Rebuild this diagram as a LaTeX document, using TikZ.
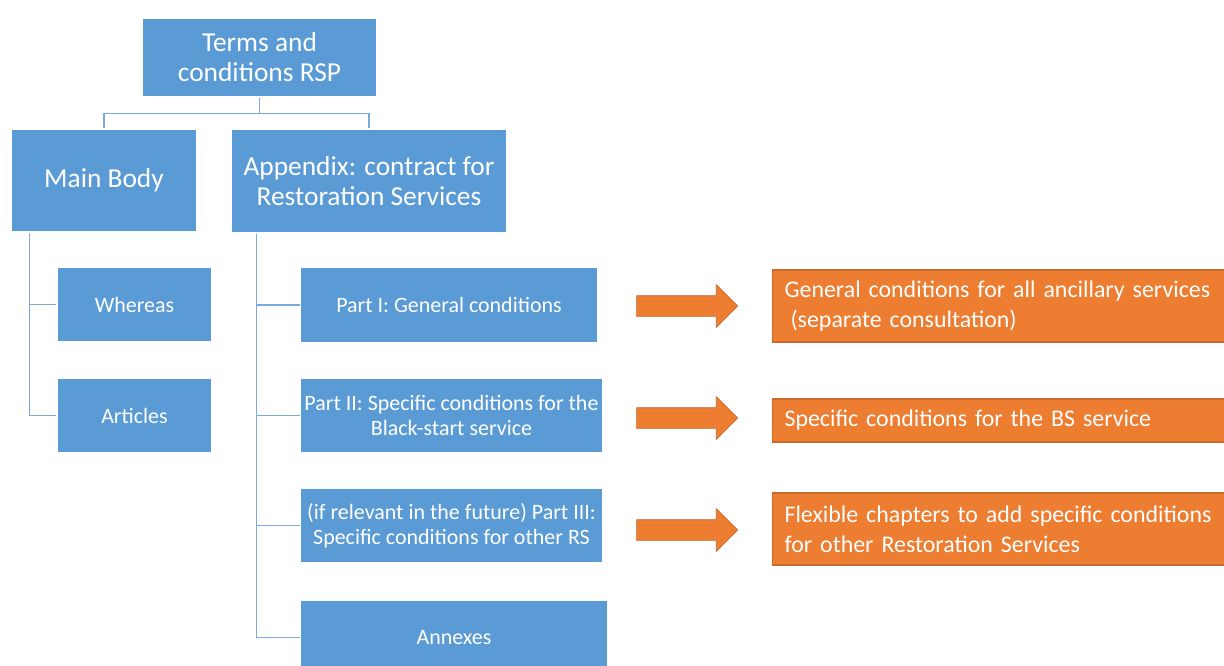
\documentclass[tikz,border=0pt]{standalone}
\usepackage{fontspec}
\setmainfont{Carlito}
\usetikzlibrary{shapes.arrows}
\definecolor{boxblue}{HTML}{5B9BD5}
\definecolor{boxorange}{HTML}{ED7D31}
\definecolor{lineblue}{HTML}{7AAADC}

\begin{document}
\begin{tikzpicture}[x=0.02cm,y=-0.02cm,
    bluebox/.style={draw=white,line width=0.6pt,fill=boxblue,text=white,align=center,inner sep=0pt,
      font=\fontsize{12.5}{14.2}\selectfont},
    bigtext/.style={font=\fontsize{15.6}{17}\selectfont},
    orangebox/.style={draw=boxorange!85!black,line width=0.6pt,fill=boxorange,text=white,align=left,
      anchor=west,inner xsep=0.24cm,inner ysep=0pt,text width=8.88cm,font=\fontsize{13.6}{17}\selectfont},
    link/.style={lineblue,line width=1pt},
    fatarrow/.style={single arrow,fill=boxorange,draw=boxorange!85!black,line width=0.4pt,
      minimum height=2.02cm,minimum width=0pt,inner xsep=0pt,inner ysep=0.2cm,
      single arrow head extend=0.22cm}]
  \useasboundingbox (0,0) rectangle (1224,666);
  \clip (0,0) rectangle (1224,666);

  \node[bluebox,bigtext,minimum width=4.7cm,minimum height=1.58cm] (terms) at (259.5,57.5) {Terms and\\conditions RSP};
  \node[bluebox,bigtext,minimum width=3.72cm,minimum height=2.06cm] (body) at (104,180.5) {Main Body};
  \node[bluebox,bigtext,minimum width=5.52cm,minimum height=2.08cm] (appendix) at (369,181) {Appendix: contract for\\Restoration Services};

  \node[bluebox,minimum width=3.1cm,minimum height=1.5cm] (whereas) at (134.5,304.5) {Whereas};
  \node[bluebox,minimum width=3.1cm,minimum height=1.5cm] (articles) at (134.5,415.5) {Articles};

  \node[bluebox,minimum width=5.96cm,minimum height=1.52cm] (part1) at (449,305) {Part I: General conditions};
  \node[bluebox,minimum width=6.06cm,minimum height=1.5cm] (part2) at (451.5,415.5) {Part II: Specific conditions for the\\Black-start service};
  \node[bluebox,minimum width=6.06cm,minimum height=1.5cm] (part3) at (451.5,525.5) {(if relevant in the future) Part III:\\Specific conditions for other RS};
  \node[bluebox,minimum width=6.16cm,minimum height=1.5cm] (annexes) at (454,637.5) {Annexes};

  \draw[link] (terms.south) -- ++(0,16) -| (body.north);
  \draw[link] (terms.south) -- ++(0,16) -| (appendix.north);
  \draw[link] ([xshift=0.38cm]body.south west) |- (whereas.west);
  \draw[link] ([xshift=0.38cm]body.south west) |- (articles.west);
  \draw[link] ([xshift=0.52cm]appendix.south west) |- (part1.west);
  \draw[link] ([xshift=0.52cm]appendix.south west) |- (part2.west);
  \draw[link] ([xshift=0.52cm]appendix.south west) |- (part3.west);
  \draw[link] ([xshift=0.52cm]appendix.south west) |- (annexes.west);

  \node[fatarrow] (arrow1) at (682,306) {};
  \node[fatarrow] (arrow2) at (682,418) {};
  \node[fatarrow] (arrow3) at (682,530) {};

  \node[orangebox,minimum height=1.44cm] (general) at (772,306) {General conditions for all ancillary services\\\hspace*{0.25em}(separate consultation)};
  \node[orangebox,minimum height=0.86cm] (specific) at (772,420.5) {Specific conditions for the BS service};
  \node[orangebox,minimum height=1.44cm] (flexible) at (772,529) {Flexible chapters to add specific conditions\\for other Restoration Services};
\end{tikzpicture}
\end{document}
